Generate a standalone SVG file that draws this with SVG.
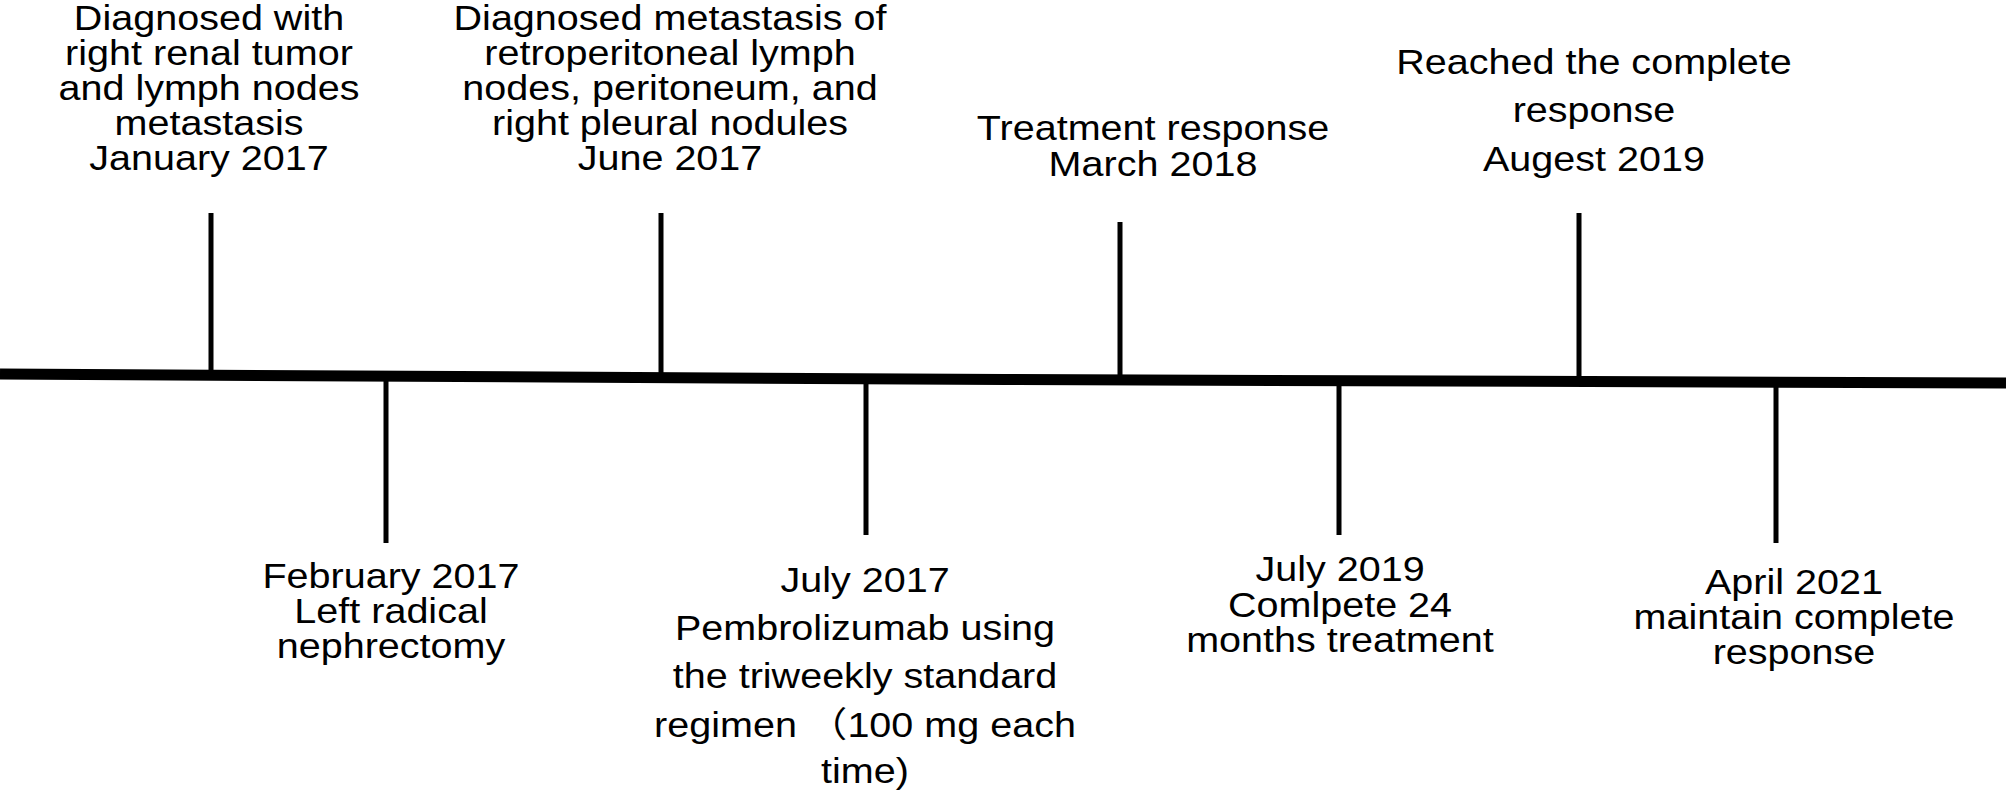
<svg xmlns="http://www.w3.org/2000/svg" width="2008" height="795" viewBox="0 0 2008 795">
<style>
  .lbl { font-family: "Liberation Sans", Arial, "Noto Sans CJK SC", sans-serif; font-size: 35px; fill: #000; text-anchor: middle; }
  .tick { stroke: #000; stroke-width: 5; fill: none; }
  .axis { stroke: #000; stroke-width: 11; fill: none; stroke-linejoin: round; }
</style>
<rect width="2008" height="795" fill="#fff"/>
<g id="connectors">
  <polyline class="axis" points="0,374 1004,379.5 2006,383"/>
  <line class="tick" x1="211" y1="213" x2="211" y2="376"/>
  <line class="tick" x1="661" y1="213" x2="661" y2="378"/>
  <line class="tick" x1="1120" y1="222" x2="1120" y2="380"/>
  <line class="tick" x1="1579" y1="213" x2="1579" y2="380"/>
  <line class="tick" x1="386" y1="378" x2="386" y2="543"/>
  <line class="tick" x1="866" y1="380" x2="866" y2="535"/>
  <line class="tick" x1="1339" y1="380" x2="1339" y2="535"/>
  <line class="tick" x1="1776" y1="382" x2="1776" y2="543"/>
</g>
<g id="node-jan2017" transform="translate(209 0) scale(1.13 1)">
  <text class="lbl" x="0" y="30">Diagnosed with</text>
  <text class="lbl" x="0" y="65">right renal tumor</text>
  <text class="lbl" x="0" y="100">and lymph nodes</text>
  <text class="lbl" x="0" y="135.5">metastasis</text>
  <text class="lbl" x="0" y="170">January 2017</text>
</g>
<g id="node-jun2017" transform="translate(670 0) scale(1.13 1)">
  <text class="lbl" x="0" y="30">Diagnosed metastasis of</text>
  <text class="lbl" x="0" y="65">retroperitoneal lymph</text>
  <text class="lbl" x="0" y="100">nodes, peritoneum, and</text>
  <text class="lbl" x="0" y="135.5">right pleural nodules</text>
  <text class="lbl" x="0" y="170">June 2017</text>
</g>
<g id="node-mar2018" transform="translate(1153 0) scale(1.13 1)">
  <text class="lbl" x="0" y="140">Treatment response</text>
  <text class="lbl" x="0" y="176">March 2018</text>
</g>
<g id="node-aug2019" transform="translate(1594 0) scale(1.13 1)">
  <text class="lbl" x="0" y="74">Reached the complete</text>
  <text class="lbl" x="0" y="122">response</text>
  <text class="lbl" x="0" y="171">Augest 2019</text>
</g>
<g id="node-feb2017" transform="translate(391 0) scale(1.13 1)">
  <text class="lbl" x="0" y="588">February 2017</text>
  <text class="lbl" x="0" y="623">Left radical</text>
  <text class="lbl" x="0" y="658">nephrectomy</text>
</g>
<g id="node-jul2017" transform="translate(865 0) scale(1.13 1)">
  <text class="lbl" x="0" y="592">July 2017</text>
  <text class="lbl" x="0" y="640">Pembrolizumab using</text>
  <text class="lbl" x="0" y="688">the triweekly standard</text>
  <text class="lbl" x="0" y="737">regimen （100 mg each</text>
  <text class="lbl" x="0" y="783">time)</text>
</g>
<g id="node-jul2019" transform="translate(1340 0) scale(1.13 1)">
  <text class="lbl" x="0" y="581">July 2019</text>
  <text class="lbl" x="0" y="617">Comlpete 24</text>
  <text class="lbl" x="0" y="652">months treatment</text>
</g>
<g id="node-apr2021" transform="translate(1794 0) scale(1.13 1)">
  <text class="lbl" x="0" y="594">April 2021</text>
  <text class="lbl" x="0" y="629">maintain complete</text>
  <text class="lbl" x="0" y="664">response</text>
</g>
</svg>
